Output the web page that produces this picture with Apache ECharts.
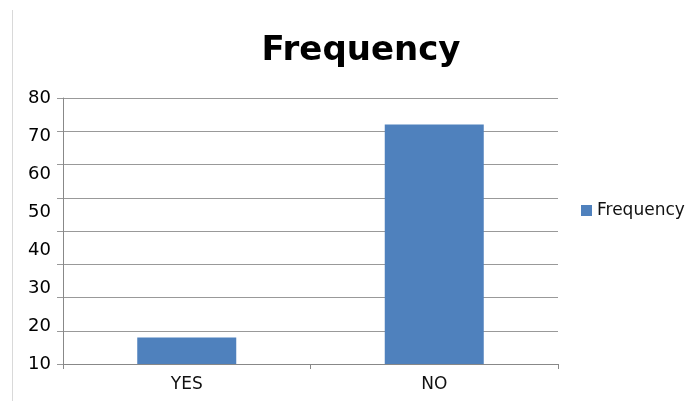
<!DOCTYPE html>
<html><head><meta charset="utf-8">
<script src="https://cdn.jsdelivr.net/npm/echarts@6/dist/echarts.min.js"></script>
<style>html,body{margin:0;padding:0;background:#fff}#c{width:689px;height:401px}</style>
</head><body><div id="c"></div>
<script>
const categories = ['YES', 'NO'];
const frequency = [8, 72];
const gridTicks = [0, 80];          // scale of the gridlines / bars
const labelTicks = [10, 80];        // range of the printed tick labels

const chart = echarts.init(document.getElementById('c'));
chart.setOption({
  backgroundColor: '#fff',
  animation: false,
  title: {
    text: 'Frequency', left: 361, top: 29, textAlign: 'center',
    textStyle: { fontFamily: 'DejaVu Sans', fontWeight: 'bold', fontSize: 34, color: '#000' }
  },
  legend: {
    data: ['Frequency'], orient: 'vertical', left: 576, top: 197,
    itemWidth: 11, itemHeight: 11, itemGap: 6, icon: 'rect',
    textStyle: { fontFamily: 'DejaVu Sans', fontSize: 17, color: '#111' }
  },
  grid: { left: 63, right: 131, top: 98, bottom: 37 },
  graphic: [{ type: 'line', shape: { x1: 12.5, y1: 10, x2: 12.5, y2: 401 }, style: { stroke: '#d9d9d9', lineWidth: 1 } }],
  xAxis: {
    type: 'category', data: categories,
    axisLine: { lineStyle: { color: '#888', width: 1 } },
    axisTick: { show: true, length: 5, lineStyle: { color: '#888' } },
    axisLabel: { fontFamily: 'DejaVu Sans', fontSize: 17, color: '#111', margin: 12 }
  },
  yAxis: [{
    type: 'value', min: gridTicks[0], max: gridTicks[1], interval: 10,
    axisLine: { show: true, lineStyle: { color: '#888', width: 1 } },
    axisTick: { show: true, length: 6, lineStyle: { color: '#999' } },
    splitLine: { lineStyle: { color: '#999', width: 1 } },
    axisLabel: { show: false }
  }, {
    type: 'value', position: 'left', min: labelTicks[0], max: labelTicks[1], interval: 10,
    axisLine: { show: false }, axisTick: { show: false }, splitLine: { show: false },
    axisLabel: { fontFamily: 'DejaVu Sans', fontSize: 18, color: '#000', margin: 12 }
  }],
  series: [{
    name: 'Frequency', type: 'bar', data: frequency, barWidth: '40%', yAxisIndex: 0,
    itemStyle: { color: '#4F81BD' }
  }]
});
chart.setOption({ title: { left: 356 } });
</script></body></html>
